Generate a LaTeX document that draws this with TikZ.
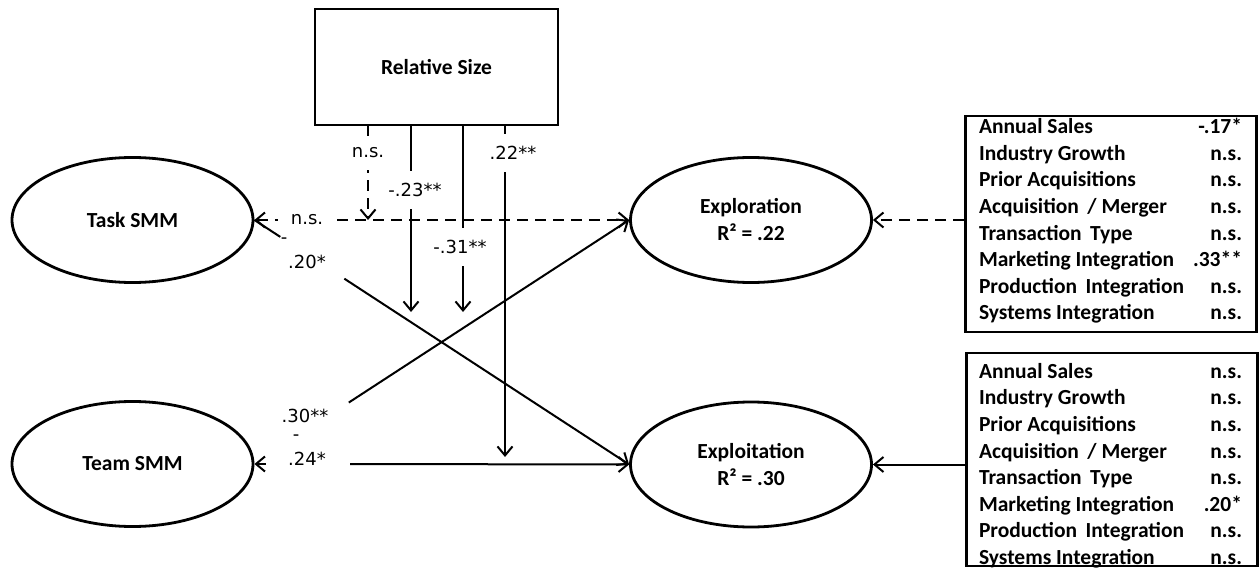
\documentclass[tikz,border=0pt]{standalone}
\usepackage{fontspec}
\setmainfont{Carlito}
\newfontfamily\labfont{DejaVu Sans}
\usetikzlibrary{shapes.geometric,arrows.meta,calc}
\tikzset{
  latent/.style={ellipse,draw,line width=2.8pt,minimum width=241pt,minimum height=125pt,inner sep=0pt,align=center,font=\fontsize{21.5}{27}\selectfont\bfseries},
  sizebox/.style={rectangle,draw,line width=2.8pt,minimum width=243pt,minimum height=116pt,inner sep=0pt,font=\fontsize{21.5}{27}\selectfont\bfseries},
  ctrlbox/.style={rectangle,draw,line width=2.8pt,minimum width=291pt,inner sep=0pt},
  ctrltext/.style={inner sep=0pt,font=\fontsize{21.5}{26.6}\selectfont\bfseries},
  conn/.style={line width=2pt},
  dconn/.style={line width=2pt,dash pattern=on 11pt off 7pt},
  arrowto/.style={-{Straight Barb[length=9pt,width=15pt]}},
  arrowback/.style={{Straight Barb[length=9pt,width=15pt]}-},
  coef/.style={font=\labfont\fontsize{18}{20}\selectfont,inner sep=0pt},
  coefgap/.style={coef,fill=white,inner ysep=12pt,inner xsep=2pt},
}
\begin{document}
\begin{tikzpicture}[x=1pt,y=-1pt]
\useasboundingbox (0,0) rectangle (1260,577);

% main constructs
\node[latent] (task) at (132.5,220) {Task SMM};
\node[latent] (team) at (132.5,464) {Team SMM};
\node[latent] (explor) at (751,220) {Exploration\\R² = .22};
\node[latent] (exploit) at (751,464.5) {Exploitation\\R² = .30};
\node[sizebox] (rs) at (436.5,67) {Relative Size};

% control boxes
\node[ctrlbox,minimum height=216pt] (ctrlA) at (1111,224) {};
\node[ctrltext] (tabA) at (1110.5,221.5) {\begin{tabular*}{263pt}{@{}l@{\extracolsep{\fill}}r@{}}
Annual Sales & -.17*\\
Industry Growth & n.s.\\
Prior Acquisitions & n.s.\\
Acquisition\, / Merger & n.s.\\
Transaction\, Type & n.s.\\
Marketing Integration & .33**\\
Production\, Integration & n.s.\\
Systems Integration & n.s.
\end{tabular*}};
\node[ctrlbox,minimum height=213pt] (ctrlB) at (1112,459.5) {};
\node[ctrltext] (tabB) at (1110.5,466) {\begin{tabular*}{263pt}{@{}l@{\extracolsep{\fill}}r@{}}
Annual Sales & n.s.\\
Industry Growth & n.s.\\
Prior Acquisitions & n.s.\\
Acquisition\, / Merger & n.s.\\
Transaction\, Type & n.s.\\
Marketing Integration & .20*\\
Production\, Integration & n.s.\\
Systems Integration & n.s.
\end{tabular*}};

% control effects
\draw[dconn,arrowto] (ctrlA.west |- explor.east) -- (explor.east);
\draw[conn,arrowto] (ctrlB.west |- exploit.east) -- (exploit.east);

% Task SMM paths
\coordinate (tA) at (278,220);
\coordinate (tB) at (337,220);
\draw[dconn,arrowback] (task.east) -- (tA);
\draw[dconn,arrowto] (tB) -- (explor.west);
\draw[conn] (task.east) -- ($(task.east)!0.069!(exploit.west)$);
\draw[conn,arrowto] ($(task.east)!0.24!(exploit.west)$) -- (exploit.west);
\node[coef] (lTa) at (307,220) {n.s.};
\node[coef] (lTb) at (284,241) {-};
\node[coef] (lTc) at (307,262) {.20*};

% Team SMM paths
\coordinate (mA) at (266,464);
\coordinate (mB) at (350,464);
\draw[conn,arrowback] (team.east) -- (mA);
\draw[conn,arrowto] (mB) -- (exploit.west);
\draw[conn,arrowto] ($(team.east)!0.252!(explor.west)$) -- (explor.west);
\node[coef] (lMa) at (305,416) {.30**};
\node[coef] (lMb) at (296,438) {-};
\node[coef] (lMc) at (307,459) {.24*};

% moderating effects of relative size
\coordinate (v1) at (368,220);
\coordinate (v2) at (411,312);
\coordinate (v3) at (463,312);
\coordinate (v4) at (505,457);
\draw[dconn,arrowto] (rs.south -| v1) -- (v1);
\draw[conn,arrowto] (rs.south -| v2) -- (v2);
\draw[conn,arrowto] (rs.south -| v3) -- (v3);
\draw[conn,arrowto] (rs.south -| v4) -- (v4);
\node[coefgap] (l1) at (368,153) {n.s.};
\node[coefgap] (l2) at (415,190) {-.23**};
\node[coefgap] (l3) at (460,247) {-.31**};
\node[coefgap] (l4) at (513,153) {.22**};
\end{tikzpicture}
\end{document}
